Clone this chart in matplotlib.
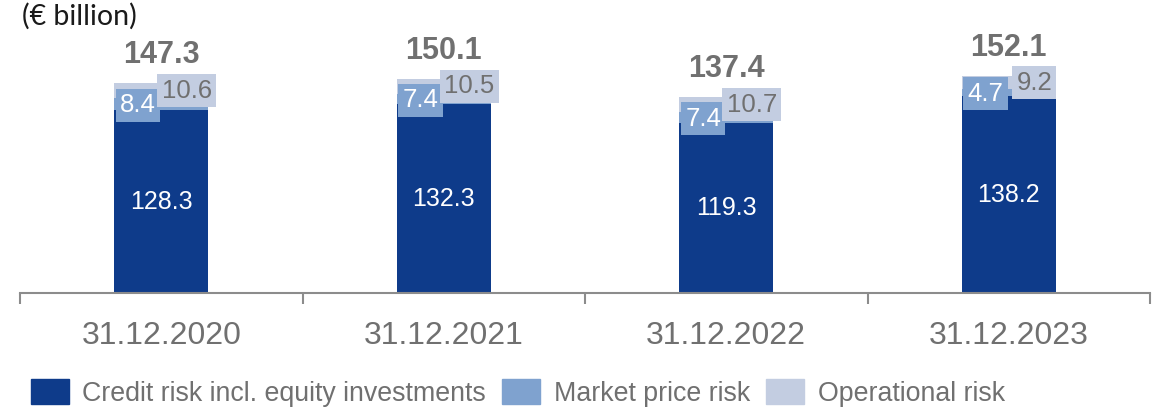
import numpy as np
import matplotlib.pyplot as plt
from matplotlib.patches import Patch

# RWA by risk type, € billion
dates = ['31.12.2020', '31.12.2021', '31.12.2022', '31.12.2023']
credit = [128.3, 132.3, 119.3, 138.2]
market = [8.4, 7.4, 7.4, 4.7]
operational = [10.6, 10.5, 10.7, 9.2]
totals = [147.3, 150.1, 137.4, 152.1]

dunkel = '#0e3b8a'
mittel = '#7fa2cf'
hell = '#c3cde1'
grau = '#707070'

plt.rcParams['font.family'] = ['Liberation Sans', 'DejaVu Sans']

fig = plt.figure(figsize=(11.6, 4.09), dpi=100)
ax = fig.add_axes([20 / 1160, 116 / 409, 1130 / 1160, 285 / 409])

x = np.arange(len(dates))
breite = 0.333
credit = np.array(credit)
market = np.array(market)
operational = np.array(operational)

ax.bar(x, credit, breite, color=dunkel)
ax.bar(x, market, breite, bottom=credit, color=mittel)
ax.bar(x, operational, breite, bottom=credit + market, color=hell)

for i in range(len(dates)):
    ax.text(x[i], credit[i] / 2, f'{credit[i]:.1f}', ha='center', va='center',
            color='white', fontsize=18)
    ax.text(x[i] - 0.082, credit[i] + market[i] / 2 - 0.8, f'{market[i]:.1f}',
            ha='center', va='center', color='white', fontsize=18.5,
            bbox=dict(boxstyle='square,pad=0.17', fc=mittel, ec='none'))
    ax.text(x[i] + 0.09, credit[i] + market[i] + operational[i] / 2,
            f'{operational[i]:.1f}', ha='center', va='center', color=grau,
            fontsize=18.5, bbox=dict(boxstyle='square,pad=0.17', fc=hell, ec='none'))
    ax.annotate(f'{totals[i]:.1f}', (x[i], credit[i] + market[i] + operational[i]),
                xytext=(0, 20), textcoords='offset points', ha='center', va='center',
                color=grau, fontsize=22, fontweight='bold')

ax.set_xlim(-0.5, len(dates) - 0.5)
ax.set_ylim(0, 200)
ax.set_yticks([])
for s in ['top', 'left', 'right']:
    ax.spines[s].set_visible(False)
ax.spines['bottom'].set_color('#8c8c8c')
ax.spines['bottom'].set_linewidth(1.5)

ax.set_xticks(np.arange(-0.5, len(dates)), labels=[])
ax.tick_params(axis='x', which='major', length=8, width=1.5, color='#8c8c8c')
ax.set_xticks(x, labels=dates, minor=True)
ax.tick_params(axis='x', which='minor', length=0, pad=20, labelsize=23, labelcolor=grau)

fig.text(22 / 1160, 1 - 16 / 409, '(€ billion)', fontsize=20.5, family=['Lato', 'DejaVu Sans'],
         color='#1a1a1a', ha='left', va='center')

handles = [Patch(color=dunkel), Patch(color=mittel), Patch(color=hell)]
fig.legend(handles, ['Credit risk incl. equity investments', 'Market price risk', 'Operational risk'],
           loc='center left', bbox_to_anchor=(31 / 1160, 1 - 393 / 409), ncol=3, frameon=False,
           fontsize=19.3, labelcolor=grau, handlelength=1.42, handleheight=1.04,
           handletextpad=0.5, columnspacing=0.6, borderpad=0, borderaxespad=0)

fig.savefig('out.png', dpi=100)
